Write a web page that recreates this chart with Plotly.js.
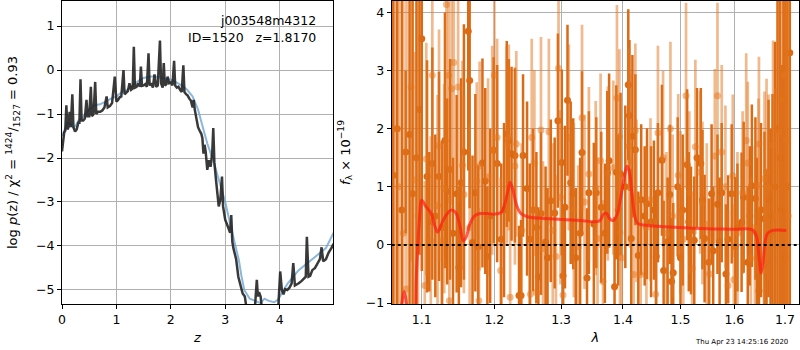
<!DOCTYPE html>
<html><head><meta charset="utf-8">
<script src="https://cdn.plot.ly/plotly-3.0.1.min.js"></script>
<style>body{margin:0;padding:0;background:#fff}#chart{width:800px;height:350px}</style>
</head><body><div id="chart"></div>
<script>
// ---- Left panel: log p(z) and chi2 curve ----
const zPz = [0.00,0.02,0.04,0.06,0.08,0.10,0.12,0.14,0.16,0.19,0.21,0.24,0.27,0.30,0.32,0.34,0.36,0.39,0.42,0.45,0.47,0.50,0.53,0.55,0.58,0.61,0.63,0.66,0.70,0.74,0.78,0.82,0.84,0.88,0.92,0.97,1.00,1.03,1.06,1.09,1.13,1.15,1.18,1.21,1.24,1.27,1.30,1.32,1.34,1.37,1.40,1.43,1.45,1.47,1.50,1.53,1.56,1.59,1.61,1.64,1.67,1.70,1.73,1.76,1.80,1.82,1.85,1.87,1.89,1.92,1.94,1.97,2.00,2.03,2.06,2.08,2.11,2.14,2.17,2.20,2.23,2.25,2.28,2.31,2.34,2.37,2.40,2.42,2.44,2.47,2.50,2.53,2.56,2.58,2.60,2.62,2.64,2.67,2.70,2.73,2.76,2.78,2.80,2.83,2.86,2.88,2.91,2.94,2.96,2.98,3.00,3.03,3.06,3.09,3.11,3.13,3.15,3.17,3.20,3.24,3.28,3.32,3.36,3.40,3.45,3.50,3.54,3.58,3.60,3.62,3.65,3.68,3.75,3.85,3.92,3.97,4.01,4.04,4.07,4.10,4.14,4.18,4.22,4.25,4.28,4.31,4.35,4.40,4.45,4.48,4.50,4.53,4.56,4.60,4.65,4.70,4.74,4.77,4.80,4.85,4.90,4.95,4.99];
const logPz = [-1.85,-1.6,-1.42,-1.38,-0.8,-1.35,-1.3,-0.95,-1.3,-0.55,-1.3,-1.4,-1.35,-1.2,-1.2,-0.21,-1.15,-1.15,-1.1,-0.68,-1.05,-1.05,-0.38,-1.05,-1.0,-0.27,-1.0,-0.95,-0.95,-0.92,-0.85,-0.6,-0.85,-0.82,-0.75,-0.15,-0.72,-0.68,-0.62,-0.6,0.0,-0.55,-0.52,-0.48,-0.3,-0.45,-0.42,0.53,-0.4,-0.38,-0.3,-0.38,0.08,-0.36,-0.35,-0.32,-0.38,0.38,-0.35,-0.3,-0.4,-0.1,-0.38,-0.35,0.67,-0.3,-0.4,0.16,-0.35,-0.32,-0.15,-0.3,-0.28,-0.35,0.21,-0.35,-0.4,-0.38,-0.45,-0.5,0.11,-0.5,-0.55,-0.58,-0.65,-0.7,-0.85,-0.68,-0.9,-1.1,-1.3,-1.38,-1.45,-1.55,-1.9,-1.7,-1.85,-2.27,-2.05,-2.2,-1.9,-1.32,-2.1,-2.5,-2.9,-3.1,-2.95,-2.42,-3.1,-3.3,-3.41,-3.5,-3.6,-3.7,-3.3,-3.9,-4.05,-4.16,-4.3,-4.7,-4.9,-5.08,-5.15,-5.5,-5.6,-5.6,-5.5,-4.77,-5.15,-5.05,-5.15,-5.5,-5.7,-5.8,-5.7,-5.5,-4.58,-5.0,-5.1,-4.98,-5.0,-4.95,-4.85,-4.39,-4.9,-4.88,-4.85,-4.8,-4.75,-4.7,-3.79,-4.7,-4.68,-4.55,-4.5,-4.4,-4.3,-4.03,-4.35,-4.3,-4.15,-4.05,-3.95];
const zChi = [0.00,0.05,0.10,0.15,0.20,0.25,0.30,0.40,0.50,0.60,0.70,0.80,0.90,1.00,1.10,1.20,1.30,1.40,1.50,1.60,1.70,1.80,1.90,2.00,2.10,2.20,2.30,2.40,2.50,2.60,2.67,2.79,2.90,3.00,3.10,3.20,3.25,3.30,3.35,3.45,3.55,3.65,3.72,3.80,3.90,3.97,4.05,4.15,4.25,4.35,4.45,4.55,4.65,4.75,4.85,4.95,4.99];
const logChi = [-1.5,-1.35,-1.2,-1.22,-1.3,-1.27,-1.15,-1.05,-0.9,-0.8,-0.78,-0.72,-0.65,-0.6,-0.5,-0.45,-0.35,-0.25,-0.18,-0.15,-0.14,-0.17,-0.2,-0.22,-0.28,-0.35,-0.45,-0.6,-0.9,-1.35,-1.67,-2.1,-2.55,-3.0,-3.55,-4.1,-4.32,-4.7,-5.0,-5.2,-5.25,-5.3,-5.2,-5.25,-5.28,-5.22,-5.05,-4.85,-4.7,-4.55,-4.45,-4.35,-4.25,-4.15,-4.05,-3.8,-3.7];

// ---- Right panel: spectrum (two sets) and model ----
const lamDark = [1.063,1.068,1.074,1.079,1.084,1.088,1.093,1.097,1.100,1.107,1.110,1.114,1.118,1.123,1.127,1.131,1.134,1.138,1.142,1.147,1.150,1.153,1.157,1.163,1.165,1.169,1.173,1.177,1.183,1.187,1.190,1.194,1.199,1.204,1.210,1.214,1.218,1.221,1.225,1.230,1.236,1.239,1.242,1.248,1.252,1.257,1.262,1.265,1.269,1.276,1.279,1.284,1.290,1.295,1.301,1.303,1.306,1.310,1.315,1.319,1.323,1.330,1.333,1.341,1.344,1.352,1.356,1.364,1.370,1.374,1.377,1.386,1.389,1.392,1.396,1.404,1.409,1.411,1.414,1.416,1.421,1.426,1.431,1.437,1.441,1.448,1.453,1.457,1.460,1.467,1.470,1.477,1.481,1.484,1.487,1.495,1.500,1.504,1.512,1.515,1.519,1.525,1.530,1.537,1.540,1.544,1.552,1.557,1.560,1.568,1.572,1.576,1.584,1.588,1.595,1.602,1.606,1.614,1.618,1.626,1.630,1.634,1.641,1.644,1.648,1.652,1.659,1.663,1.667,1.671,1.675,1.680,1.685,1.690,1.693,1.697,1.700,1.705,1.710];
const fluxDark = [1.2,2.0,0.6,1.6,1.9,0.88,1.5,2.33,3.55,1.18,0.4,1.4,0.5,1.18,0.3,1.8,0.92,1.3,0.2,0.88,-0.39,1.07,1.6,3.68,2.83,0.04,0.9,-0.03,1.41,1.1,-0.2,0.5,1.63,1.4,0.1,0.6,1.91,1.8,1.57,1.54,-0.87,-0.87,1.54,0.97,0.1,0.6,0.3,-0.55,0.54,0.05,-0.22,0.76,0.55,2.14,1.42,-0.53,0.65,2.49,1.07,0.88,-0.22,0.2,1.59,-0.57,0.9,0.36,0.9,0.65,0.2,1.25,1.45,-0.72,1.25,0.6,1.22,1.0,2.76,2.23,0.11,1.87,1.64,-0.18,0.78,0.5,0.71,0.4,0.6,-0.2,0.9,1.46,-0.44,0.06,0.87,-0.63,-0.48,1.0,-0.22,0.6,1.38,0.4,0.25,0.08,1.5,1.4,0.78,0.11,-0.3,0.88,-0.1,0.7,0.06,0.9,-0.5,0.1,0.88,-0.03,0.3,0.39,0.82,-0.3,0.5,1.02,0.8,0.2,-0.79,0.6,0.45,-0.3,0.8,0.2,0.5,1.0,2.0,1.5,0.6,2.5,-0.21,1.0,3.31];
const errDark = [6,6,6,1.4,5,3.5,5,2.5,4,2.0,1.2,2.0,1.4,1.8,1.5,2.2,1.6,1.9,1.3,1.7,1.4,1.8,2.2,2.4,2.2,1.5,1.7,1.4,1.8,1.6,1.2,1.5,1.6,1.7,1.3,1.5,1.6,1.4,1.5,1.5,1.2,1.3,1.4,1.5,1.3,1.4,1.3,1.2,1.4,1.3,1.2,1.4,1.3,1.5,1.6,1.2,1.4,1.3,1.4,1.3,1.2,1.3,1.4,1.2,1.4,1.4,1.3,1.3,1.2,1.4,1.5,1.2,1.5,1.3,1.4,1.4,1.3,1.3,1.2,1.4,1.3,1.1,1.3,1.2,1.3,1.3,1.2,1.1,1.2,1.3,1.2,1.1,1.2,1.1,1.2,1.2,1.2,1.3,1.3,1.2,1.1,1.1,1.2,1.3,1.2,1.1,1.1,1.2,1.1,1.2,1.1,1.2,1.2,1.1,1.2,1.2,1.1,1.2,1.3,1.3,1.2,1.4,1.4,1.3,1.4,1.5,1.5,1.6,1.7,1.8,2.1,2.5,6,6,2.5,6,6,6,6];

const lamLight = [1.065,1.070,1.076,1.080,1.086,1.091,1.095,1.104,1.106,1.112,1.114,1.121,1.123,1.127,1.130,1.133,1.136,1.137,1.140,1.143,1.149,1.155,1.157,1.165,1.175,1.178,1.179,1.191,1.197,1.200,1.204,1.209,1.218,1.221,1.223,1.230,1.232,1.240,1.253,1.255,1.259,1.262,1.269,1.272,1.281,1.287,1.292,1.296,1.299,1.303,1.312,1.320,1.327,1.333,1.337,1.344,1.355,1.358,1.363,1.367,1.375,1.384,1.390,1.394,1.395,1.398,1.410,1.412,1.418,1.421,1.423,1.430,1.440,1.447,1.456,1.460,1.469,1.475,1.482,1.486,1.496,1.500,1.505,1.510,1.516,1.521,1.527,1.536,1.540,1.548,1.553,1.563,1.568,1.576,1.583,1.588,1.597,1.599,1.606,1.616,1.623,1.626,1.632,1.640,1.647,1.648,1.658,1.659,1.663,1.667,1.676,1.681,1.687,1.692,1.699,1.703,1.707];
const fluxLight = [2.0,1.0,0.2,-0.76,2.72,1.12,0.5,-0.7,1.48,0.07,2.92,0.68,1.71,0.07,0.97,4.14,2.92,-0.96,2.69,3.14,2.72,1.37,0.87,0.3,1.1,-0.96,1.36,1.17,1.63,2.92,1.85,-0.44,1.72,1.85,-0.9,1.36,1.74,0.25,-0.85,1.85,1.41,-0.82,1.98,-0.06,1.95,0.25,-0.2,3.04,0.82,-0.86,1.85,0.6,-0.03,2.19,0.74,1.22,0.98,0.11,1.45,-0.63,1.23,1.33,2.53,1.87,0.21,-0.22,1.7,1.45,-0.51,1.97,0.76,-0.51,0.3,0.78,-0.85,1.93,1.5,0.2,2.0,0.5,1.2,0.56,0.1,2.57,0.9,-0.4,1.69,1.25,0.72,0.35,-0.5,1.53,2.57,1.6,1.0,-0.7,1.19,-0.6,0.2,0.9,1.8,1.41,-0.23,0.3,1.02,1.74,-0.45,1.14,1.26,0.99,1.72,0.5,1.94,2.5,2.92,1.8,0.5];
const errLight = [6,6,6,5,3,2.2,5,1.8,2.0,1.8,2.3,1.9,2.0,1.7,1.8,2.8,2.2,1.8,2.0,2.2,2.0,1.8,1.7,1.8,1.7,1.6,1.8,1.7,1.8,1.9,1.7,1.6,1.7,1.6,1.5,1.7,1.6,1.5,1.5,1.7,1.6,1.5,1.6,1.5,1.6,1.5,1.4,1.6,1.5,1.4,1.6,1.5,1.4,1.6,1.5,1.5,1.5,1.4,1.5,1.4,1.5,1.5,1.6,1.5,1.4,1.4,1.7,1.5,1.4,1.5,1.4,1.4,1.4,1.4,1.3,1.5,1.5,1.4,1.5,1.4,1.4,1.4,1.4,1.6,1.4,1.3,1.5,1.4,1.4,1.4,1.3,1.5,1.6,1.5,1.4,1.3,1.4,1.3,1.4,1.4,1.5,1.4,1.4,1.4,1.5,1.5,1.5,1.5,1.6,1.6,1.8,2.2,6,6,6,6,6];

const lamModel = [1.062,1.070,1.074,1.077,1.080,1.084,1.089,1.093,1.097,1.100,1.105,1.112,1.118,1.121,1.126,1.133,1.140,1.146,1.152,1.156,1.160,1.165,1.172,1.180,1.190,1.200,1.210,1.215,1.220,1.223,1.227,1.232,1.238,1.250,1.270,1.300,1.330,1.355,1.362,1.368,1.373,1.378,1.384,1.390,1.396,1.402,1.407,1.411,1.415,1.420,1.425,1.440,1.500,1.550,1.600,1.635,1.643,1.648,1.652,1.656,1.660,1.665,1.675,1.703];
const fluxModel = [-1.6,-1.3,-1.0,-0.8,-1.0,-1.5,-1.6,-0.5,0.45,0.77,0.67,0.55,0.3,0.22,0.35,0.52,0.6,0.55,0.3,0.07,0.13,0.35,0.5,0.54,0.54,0.53,0.56,0.7,0.95,1.08,0.95,0.7,0.55,0.48,0.46,0.44,0.42,0.4,0.42,0.53,0.54,0.45,0.42,0.52,0.8,1.15,1.36,1.25,0.9,0.5,0.37,0.34,0.3,0.28,0.27,0.26,0.15,-0.2,-0.48,-0.3,0.05,0.2,0.25,0.25];

const lamTicks = [1.1,1.2,1.3,1.4,1.5,1.6,1.7];

const F = 'DejaVu Sans, sans-serif';
const darkCol = 'rgb(218,106,20)';
const lightCol = 'rgba(228,118,30,0.5)';

const traces = [
  {x: zChi, y: logChi, xaxis:'x', yaxis:'y', mode:'lines', line:{color:'rgba(110,165,210,0.8)', width:2}, hoverinfo:'skip'},
  {x: zPz, y: logPz, xaxis:'x', yaxis:'y', mode:'lines', line:{color:'rgba(35,35,35,0.9)', width:2.5}, hoverinfo:'skip'},
  {x: lamDark, y: fluxDark, xaxis:'x2', yaxis:'y2', mode:'markers',
   marker:{color:darkCol, size:7},
   error_y:{type:'data', array: errDark, visible:true, thickness:2.5, width:0, color:darkCol}},
  {x: lamLight, y: fluxLight, xaxis:'x2', yaxis:'y2', mode:'markers',
   marker:{color:lightCol, size:7},
   error_y:{type:'data', array: errLight, visible:true, thickness:2.7, width:0, color:lightCol}},
  {x: lamModel, y: fluxModel, xaxis:'x2', yaxis:'y2', mode:'lines', line:{color:'rgba(255,30,20,0.72)', width:3, shape:'spline'}}
];

const axBase = {showgrid:true, gridcolor:'#b0b0b0', gridwidth:1, showline:true, linecolor:'black', linewidth:1, mirror:true,
  ticks:'outside', ticklen:4, tickcolor:'black', zeroline:false, tickfont:{family:F, size:12.5, color:'black'}};

const layout = {
  width:800, height:350, margin:{l:62, r:1, t:1, b:46},
  paper_bgcolor:'white', plot_bgcolor:'white', showlegend:false,
  font:{family:F, color:'black'},
  xaxis: Object.assign({}, axBase, {domain:[0,0.3677], range:[0,4.98], dtick:1, tick0:0,
    title:{text:'<i>z</i>', font:{family:F, size:13}, standoff:6}}),
  yaxis: Object.assign({}, axBase, {range:[-5.32,1.57], dtick:1, tick0:0,
    title:{text:'log <i>p</i>(z) / χ<sup>2</sup> = <sup>1424</sup>/<sub>1527</sub> = 0.93', font:{family:F, size:13}, standoff:15}}),
  xaxis2: Object.assign({}, axBase, {domain:[0.4474,1], anchor:'y2', type:'log', range:[Math.log10(1.0611), Math.log10(1.729)],
    tickvals: lamTicks, ticktext: lamTicks.map(v=>v.toFixed(1)),
    title:{text:'<i>λ</i>', font:{family:F, size:13}, standoff:6}}),
  yaxis2: Object.assign({}, axBase, {anchor:'x2', range:[-1.017,4.2], dtick:1, tick0:0,
    title:{text:'<i>f</i><sub>λ</sub> × 10<sup>−19</sup>', font:{family:F, size:13}, standoff:12}}),
  shapes:[{type:'line', xref:'x2 domain', yref:'y2', x0:0, x1:1, y0:0, y1:0, line:{color:'black', width:2, dash:'dot'}, layer:'above'}],
  annotations:[
    {xref:'x domain', yref:'y domain', x:0.945, y:0.937, xanchor:'right', yanchor:'middle', showarrow:false, text:'j003548m4312', font:{family:F, size:12.5}},
    {xref:'x domain', yref:'y domain', x:0.945, y:0.881, xanchor:'right', yanchor:'middle', showarrow:false, text:'ID=1520   z=1.8170', font:{family:F, size:12.5}},
    {xref:'paper', yref:'paper', x:0.922, y:-0.125, xanchor:'center', yanchor:'middle', showarrow:false, text:'Thu Apr 23 14:25:16 2020', font:{family:F, size:7}}
  ]
};

Plotly.newPlot('chart', traces, layout, {staticPlot:true, displayModeBar:false});
</script></body></html>
